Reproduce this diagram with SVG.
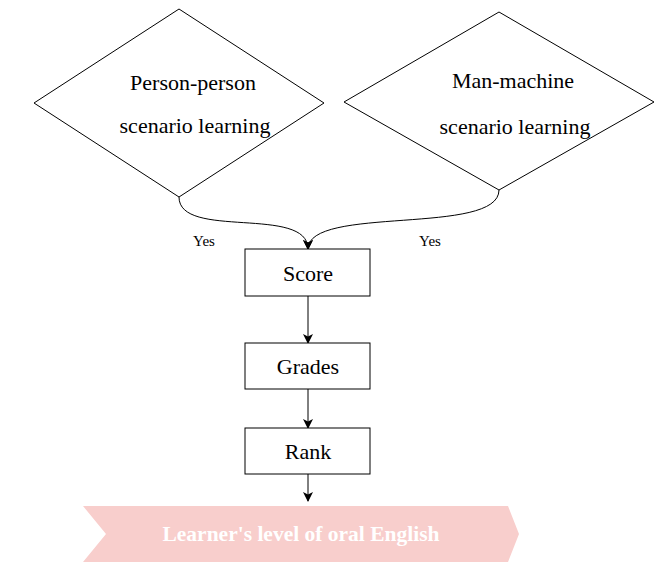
<svg xmlns="http://www.w3.org/2000/svg" width="669" height="568" viewBox="0 0 669 568">
<style>
.shape{fill:#fff;stroke:#000;stroke-width:1}
.t{font-family:"Liberation Serif",serif;fill:#000;text-anchor:middle;dominant-baseline:central}
.big{font-size:22px}
.box{font-size:22px}
.lbl{font-size:15px}
.edge{fill:none;stroke:#000;stroke-width:1}
</style>
<defs>
<marker id="arr" viewBox="0 0 10 10" refX="9" refY="5" markerWidth="10" markerHeight="10" markerUnits="userSpaceOnUse" orient="auto">
<path d="M0,0 L10,5 L0,10 L2.5,5 Z" fill="#000"/>
</marker>
</defs>
<rect width="669" height="568" fill="#fff"/>
<g id="connectors">
<path class="edge" d="M179,197 C179,240 308,205 308,249" marker-end="url(#arr)"/>
<path class="edge" d="M499,190 C499,236 308,205 308,249" marker-end="url(#arr)"/>
<path class="edge" d="M308,296 L308,343" marker-end="url(#arr)"/>
<path class="edge" d="M308,389 L308,428" marker-end="url(#arr)"/>
<path class="edge" d="M308,474 L308,501" marker-end="url(#arr)"/>
<text class="t lbl" x="204" y="241">Yes</text>
<text class="t lbl" x="430" y="241">Yes</text>
</g>
<g id="person">
<polygon class="shape" points="179,9 324,103 179,197 34,103"/>
<text class="t big" x="193" y="82">Person-person</text>
<text class="t big" x="195" y="125">scenario learning</text>
</g>
<g id="machine">
<polygon class="shape" points="499,12 654,102 499,190 344,102"/>
<text class="t big" x="513" y="80">Man-machine</text>
<text class="t big" x="515" y="126">scenario learning</text>
</g>
<g id="score">
<rect class="shape" x="245" y="249" width="125" height="47"/>
<text class="t box" x="308" y="273">Score</text>
</g>
<g id="grades">
<rect class="shape" x="245" y="343" width="125" height="46"/>
<text class="t box" x="308" y="366">Grades</text>
</g>
<g id="rank">
<rect class="shape" x="245" y="428" width="125" height="46"/>
<text class="t box" x="308" y="451">Rank</text>
</g>
<g id="result">
<polygon points="83,506 508,506 519,534 508,562 83,562 106,534" fill="#F8CECC"/>
<text class="t" x="301" y="534" font-size="21.5" font-weight="bold" style="fill:#fff">Learner's level of oral English</text>
</g>
</svg>
